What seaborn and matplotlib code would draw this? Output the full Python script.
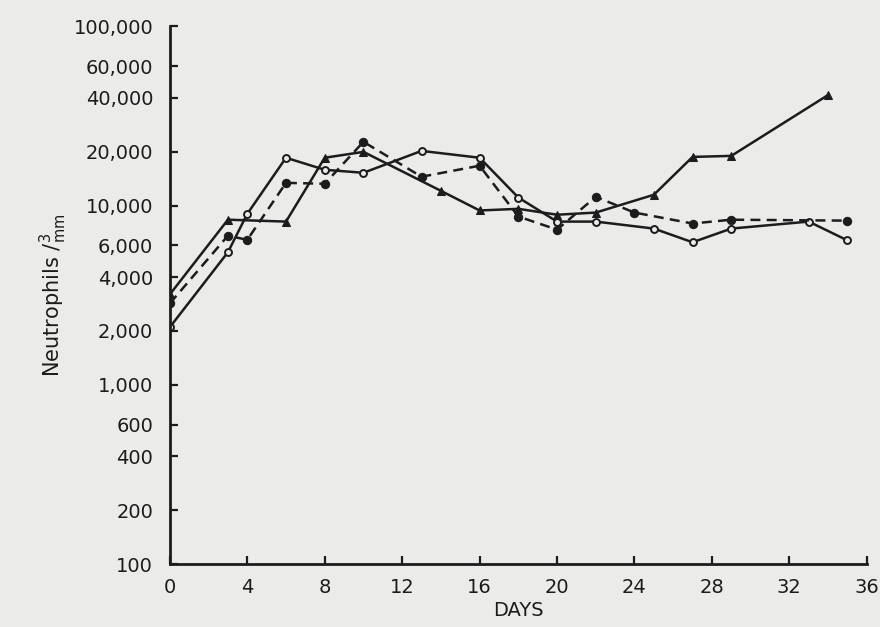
import matplotlib
matplotlib.use("Agg")
import matplotlib.pyplot as plt
import seaborn as sns
import pandas as pd
from matplotlib.ticker import FixedLocator, FixedFormatter, NullLocator

# ---- data ----
days_tri = [0, 3, 6, 8, 10, 14, 16, 18, 20, 22, 25, 27, 29, 34]
vals_tri = [3200, 8350, 8150, 18500, 19950, 12100, 9400, 9600, 8900, 9150, 11500, 18700, 18950, 41400]

days_open = [0, 3, 4, 6, 8, 10, 13, 16, 18, 20, 22, 25, 27, 29, 33, 35]
vals_open = [2100, 5500, 9000, 18500, 15850, 15250, 20200, 18500, 11100, 8150, 8150, 7450, 6250, 7450, 8150, 6400]

days_dash = [0, 3, 4, 6, 8, 10, 13, 16, 18, 20, 22, 24, 27, 29, 35]
vals_dash = [2850, 6800, 6450, 13400, 13250, 22700, 14500, 16700, 8700, 7350, 11200, 9150, 7950, 8350, 8250]

ytick_vals = [100, 200, 400, 600, 1000, 2000, 4000, 6000, 10000, 20000, 40000, 60000, 100000]
ytick_labels = ["100", "200", "400", "600", "1,000", "2,000", "4,000", "6,000",
                "10,000", "20,000", "40,000", "60,000", "100,000"]
xtick_vals = [0, 4, 8, 12, 16, 20, 24, 28, 32, 36]

df_tri = pd.DataFrame({"day": days_tri, "value": vals_tri})
df_open = pd.DataFrame({"day": days_open, "value": vals_open})
df_dash = pd.DataFrame({"day": days_dash, "value": vals_dash})

sns.set_theme(style="ticks")
plt.rcParams["font.family"] = ["DejaVu Sans"]

bg = "#ebebea"
ink = "#1c1c1c"

fig = plt.figure(figsize=(8.8, 6.27), dpi=100, facecolor=bg)
ax = fig.add_axes([0.193, 0.100, 0.792, 0.858])
ax.set_facecolor(bg)

sns.lineplot(data=df_tri, x="day", y="value", ax=ax, color=ink, linewidth=1.8,
             marker="^", markersize=6, markeredgecolor=ink, markerfacecolor=ink,
             estimator=None, sort=False)
sns.lineplot(data=df_open, x="day", y="value", ax=ax, color=ink, linewidth=1.8,
             marker="o", markersize=5, markeredgecolor=ink, markerfacecolor=bg,
             markeredgewidth=1.4, estimator=None, sort=False)
sns.lineplot(data=df_dash, x="day", y="value", ax=ax, color=ink, linewidth=1.8,
             linestyle=(0, (4, 2.5)), marker="o", markersize=6,
             markeredgecolor=ink, markerfacecolor=ink, estimator=None, sort=False)

ax.set_yscale("log")
ax.set_ylim(100, 100000)
ax.set_xlim(0, 36)
ax.yaxis.set_major_locator(FixedLocator(ytick_vals))
ax.yaxis.set_major_formatter(FixedFormatter(ytick_labels))
ax.yaxis.set_minor_locator(NullLocator())
ax.set_xticks(xtick_vals)
ax.set_xticklabels([str(v) for v in xtick_vals])

for s in ["top", "right"]:
    ax.spines[s].set_visible(False)
for s in ["left", "bottom"]:
    ax.spines[s].set_color(ink)
    ax.spines[s].set_linewidth(2.0)

ax.tick_params(axis="both", direction="in", length=6, width=1.6, color=ink,
               labelcolor=ink, labelsize=14)
ax.tick_params(axis="y", pad=12)
ax.tick_params(axis="x", pad=10)

ax.set_xlabel("DAYS", fontsize=14, color=ink, labelpad=3)
ax.set_ylabel(r"Neutrophils /$\mathregular{_{mm}^{3}}$", fontsize=15, color=ink, labelpad=3)
ax.grid(False)

fig.savefig("out.png", dpi=100, facecolor=bg)
